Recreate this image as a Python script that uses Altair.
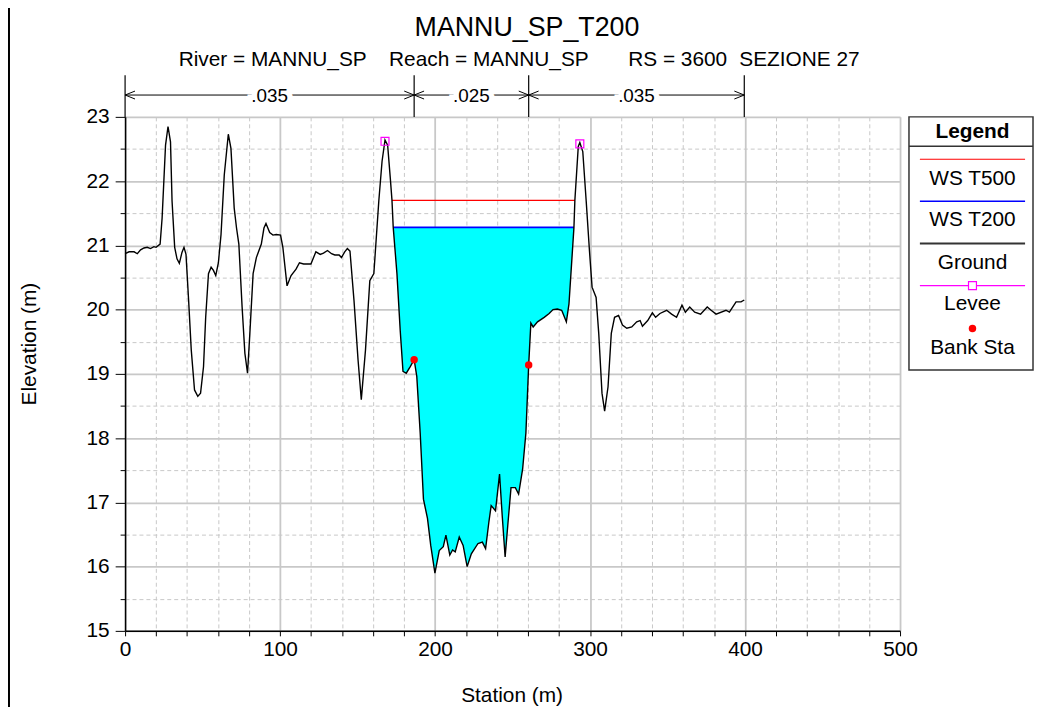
import altair as alt
import pandas as pd

# ---------------- data ----------------
station = [0.0, 2.6, 5.8, 7.9, 10.0, 12.2, 14.3, 16.4, 18.6, 20.0, 22.6, 23.9, 26.1, 27.7, 29.3,
           30.3, 32.0, 33.5, 35.0, 36.7, 38.0, 39.3, 41.0, 42.7, 44.8, 46.9, 48.7, 50.6, 52.0,
           53.8, 55.5, 57.0, 58.5, 60.2, 61.9, 64.0, 66.6, 68.3, 70.4, 71.9, 73.4, 75.5, 77.3,
           79.0, 80.5, 82.6, 84.7, 87.9, 89.6, 90.9, 93.3, 95.4, 97.5, 100.3, 101.8, 104.5, 107.1,
           110.3, 112.5, 115.2, 119.9, 123.1, 125.9, 128.0, 130.6, 133.2, 135.3, 138.1, 139.6,
           141.7, 143.4, 145.1, 147.7, 150.3, 152.4, 155.1, 157.9, 160.5, 163.7, 165.8, 167.7,
           169.4, 171.1, 172.2, 173.0, 175.4, 177.5, 179.3, 181.4, 183.9, 186.5, 188.2, 190.4,
           192.5, 195.1, 197.2, 199.9, 202.7, 205.3, 207.0, 209.5, 211.3, 213.0, 215.6, 218.1,
           220.7, 223.4, 227.7, 230.5, 232.6, 234.7, 236.2, 239.0, 241.6, 243.3, 245.2, 246.9,
           249.0, 251.8, 253.9, 256.5, 258.6, 260.4, 261.8, 263.3, 266.1, 270.4, 273.6, 276.1,
           278.9, 281.7, 284.7, 286.4, 289.6, 290.2, 292.4, 293.4, 295.3, 297.5, 299.6, 301.3,
           303.9, 305.6, 307.7, 309.4, 311.6, 313.7, 315.8, 318.4, 320.9, 323.7, 326.9, 330.1,
           332.3, 333.8, 337.2, 340.2, 342.3, 345.1, 349.4, 352.6, 355.8, 359.3, 361.5, 364.3,
           367.5, 371.3, 375.6, 378.1, 381.3, 387.7, 389.9, 392.0, 394.2, 397.4, 399.5]
elevation = [20.87, 20.90, 20.90, 20.87, 20.93, 20.96, 20.97, 20.95, 20.98, 20.97, 21.02, 21.43,
             22.56, 22.85, 22.61, 21.69, 20.97, 20.79, 20.72, 20.89, 20.97, 20.86, 20.14, 19.37,
             18.75, 18.65, 18.70, 19.11, 19.88, 20.56, 20.66, 20.61, 20.53, 20.73, 21.17, 22.10,
             22.73, 22.51, 21.58, 21.27, 21.02, 20.04, 19.32, 19.01, 19.63, 20.56, 20.81, 21.02,
             21.27, 21.34, 21.20, 21.16, 21.17, 21.16, 20.97, 20.37, 20.53, 20.63, 20.73, 20.71,
             20.71, 20.90, 20.86, 20.88, 20.92, 20.87, 20.85, 20.85, 20.81, 20.90, 20.95, 20.91,
             20.14, 19.22, 18.60, 19.37, 20.45, 20.56, 21.69, 22.31, 22.64, 22.56, 22.05, 21.70,
             21.28, 20.56, 19.68, 19.04, 19.01, 19.11, 19.22, 18.96, 18.08, 17.05, 16.75, 16.33,
             15.90, 16.25, 16.31, 16.49, 16.18, 16.26, 16.23, 16.46, 16.33, 16.00, 16.20, 16.36,
             16.38, 16.28, 16.69, 16.95, 16.87, 17.44, 16.80, 16.15, 16.64, 17.23, 17.23, 17.13,
             17.52, 18.08, 19.14, 19.79, 19.73, 19.81, 19.88, 19.94, 20.00, 20.01, 19.99, 19.81,
             20.09, 21.28, 21.70, 22.54, 22.60, 22.46, 21.69, 20.92, 20.35, 20.19, 19.63, 18.70,
             18.42, 18.80, 19.63, 19.88, 19.91, 19.76, 19.71, 19.73, 19.81, 19.83, 19.74, 19.83,
             19.95, 19.88, 19.94, 19.99, 19.93, 19.88, 20.07, 19.96, 20.04, 19.96, 19.93, 20.04,
             19.99, 19.93, 19.99, 19.96, 20.04, 20.12, 20.12, 20.15]

ws_t500 = 21.70
ws_t500_sta = [172.2, 290.2]
ws_t200 = 21.28
ws_t200_sta = [173.0, 289.6]

levee_sta = [167.7, 293.4]
levee_elev = [22.62, 22.58]
bank_sta = [186.5, 260.4]
bank_elev = [19.22, 19.14]

n_start = [0.0, 186.5, 260.4]
n_end = [186.5, 260.4, 399.5]
n_label = [".035", ".025", ".035"]
n_breaks = [0.0, 186.5, 260.4, 399.5]

x_ticks = list(range(0, 501, 20))
y_ticks = [15 + 0.5 * i for i in range(17)]

title_text = "MANNU_SP_T200"
sub_parts = ["River = MANNU_SP", "Reach = MANNU_SP", "RS = 3600", "SEZIONE 27"]
legend_labels = ["WS T500", "WS T200", "Ground", "Levee", "Bank Sta"]

# ---------------- tables ----------------
ground_df = pd.DataFrame({"station": station, "elevation": elevation})
t500_df = pd.DataFrame({"station": ws_t500_sta, "elevation": [ws_t500, ws_t500]})
t200_df = pd.DataFrame({"station": ws_t200_sta, "elevation": [ws_t200, ws_t200]})
levee_df = pd.DataFrame({"station": levee_sta, "elevation": levee_elev})
bank_df = pd.DataFrame({"station": bank_sta, "elevation": bank_elev})
n_df = pd.DataFrame({"start": n_start, "end": n_end, "label": n_label})
brk_df = pd.DataFrame({"station": n_breaks})
one = alt.Data(values=[{"k": 0}])

FONT = "Liberation Sans"

xs = alt.Scale(domain=[0, 500], nice=False, zero=False)
ys = alt.Scale(domain=[15, 23], nice=False, zero=False)

xaxis = alt.Axis(
    values=x_ticks,
    labelExpr="datum.value % 100 == 0 ? format(datum.value, 'd') : ''",
    grid=True, gridColor="#c8c8c8",
    gridDash={"condition": {"test": "datum.value % 100 != 0", "value": [4, 3]}, "value": []},
    gridWidth={"condition": {"test": "datum.value % 100 != 0", "value": 1}, "value": 1.8},
    tickSize=5, tickColor="black", domainColor="black", domainWidth=1.5,
    labelFont=FONT, labelFontSize=21, labelColor="black", labelPadding=3,
    labelFlush=False, labelOverlap=False, title=None,
)
yaxis = alt.Axis(
    values=y_ticks,
    labelExpr="datum.value % 1 == 0 ? format(datum.value, 'd') : ''",
    grid=True, gridColor="#c8c8c8",
    gridDash={"condition": {"test": "datum.value % 1 != 0", "value": [4, 3]}, "value": []},
    gridWidth={"condition": {"test": "datum.value % 1 != 0", "value": 1}, "value": 1.8},
    tickSize={"condition": {"test": "datum.value % 1 != 0", "value": 5}, "value": 10},
    tickColor="black", domainColor="black", domainWidth=1.5,
    labelFont=FONT, labelFontSize=21, labelColor="black", labelPadding=6,
    labelFlush=False, labelOverlap=False, title=None,
)

X = alt.X("station:Q", scale=xs, axis=xaxis, title=None)
Y = alt.Y("elevation:Q", scale=ys, axis=yaxis, title=None)

layers = []

# water fill (T200): between the ground and the water surface, inside the wetted reach
layers.append(
    alt.Chart(ground_df)
    .transform_filter(f"datum.station >= {ws_t200_sta[0]} && datum.station <= {ws_t200_sta[1]}")
    .transform_calculate(ws=str(ws_t200))
    .mark_area(color="#00ffff", fill="#00ffff", opacity=1, fillOpacity=1, interpolate="linear")
    .encode(x=X, y=Y, y2="ws:Q")
)
layers.append(alt.Chart(t500_df).mark_line(color="#ff0000", strokeWidth=1.2).encode(x=X, y=Y))
layers.append(alt.Chart(t200_df).mark_line(color="#0000ff", strokeWidth=1.6).encode(x=X, y=Y))
layers.append(
    alt.Chart(ground_df).mark_line(color="black", strokeWidth=1.4).encode(x=X, y=Y, order="station:Q")
)
layers.append(
    alt.Chart(levee_df).mark_point(shape="square", filled=False, color="#ff00ff", size=64, strokeWidth=1.2, opacity=1)
    .encode(x=X, y=Y)
)
layers.append(
    alt.Chart(bank_df).mark_circle(color="#ff0000", size=56, opacity=1).encode(x=X, y=Y)
)

# Manning's n bar above plot
layers.append(
    alt.Chart(brk_df).mark_rule(color="black", strokeWidth=1.2)
    .encode(x=X, y=alt.value(-42), y2=alt.value(0))
)
layers.append(
    alt.Chart(n_df).mark_rule(color="black", strokeWidth=1)
    .encode(x=alt.X("start:Q", scale=xs, axis=xaxis, title=None), x2="end:Q", y=alt.value(-22))
)
layers.append(
    alt.Chart(n_df).mark_point(shape="M 2.5 -1 L 0 0 L 2.5 1", filled=False, color="black", size=64, strokeWidth=1, opacity=1)
    .encode(x=alt.X("start:Q", scale=xs, axis=xaxis, title=None), y=alt.value(-22))
)
layers.append(
    alt.Chart(n_df).mark_point(shape="M -2.5 -1 L 0 0 L -2.5 1", filled=False, color="black", size=64, strokeWidth=1, opacity=1)
    .encode(x=alt.X("end:Q", scale=xs, axis=xaxis, title=None), y=alt.value(-22))
)
n_mid = alt.Chart(n_df).transform_calculate(mid="(datum.start + datum.end) / 2")
layers.append(
    n_mid.mark_text(font=FONT, fontSize=19, stroke="white", strokeWidth=11, fill="white",
                    align="center", baseline="alphabetic")
    .encode(x=alt.X("mid:Q", scale=xs, axis=xaxis, title=None), y=alt.value(-15), text="label:N")
)
layers.append(
    n_mid.mark_text(font=FONT, fontSize=19, color="black", align="center", baseline="alphabetic")
    .encode(x=alt.X("mid:Q", scale=xs, axis=xaxis, title=None), y=alt.value(-15), text="label:N")
)

# titles
layers.append(
    alt.Chart(one).mark_text(text=title_text, font=FONT, fontSize=27, color="black", align="center", baseline="alphabetic")
    .encode(x=alt.value(405), y=alt.value(-82))
)
for txt, xv in zip(sub_parts, [54, 266, 507, 619]):
    layers.append(
        alt.Chart(one).mark_text(text=txt, font=FONT, fontSize=21, color="black", align="left", baseline="alphabetic")
        .encode(x=alt.value(xv), y=alt.value(-51.5))
    )
layers.append(
    alt.Chart(one).mark_text(text="Station (m)", font=FONT, fontSize=21, color="black", align="center", baseline="alphabetic")
    .encode(x=alt.value(390), y=alt.value(590))
)
layers.append(
    alt.Chart(one).mark_text(text="Elevation (m)", font=FONT, fontSize=21, color="black", align="center",
                             baseline="middle", angle=270)
    .encode(x=alt.value(-96), y=alt.value(229))
)

# outer frame line on the left
layers.append(
    alt.Chart(one).mark_rule(color="black", strokeWidth=2)
    .encode(x=alt.value(-117), y=alt.value(-120), y2=alt.value(610))
)

# legend box
LX0, LX1, LXC = 790, 915, 854
layers.append(
    alt.Chart(one).mark_rect(fill="white", stroke="#333333", strokeWidth=1.5)
    .encode(x=alt.value(LX0), x2=alt.value(LX1), y=alt.value(0), y2=alt.value(255))
)
layers.append(
    alt.Chart(one).mark_rule(color="#333333", strokeWidth=1.5)
    .encode(x=alt.value(LX0), x2=alt.value(LX1), y=alt.value(29.5))
)
layers.append(
    alt.Chart(one).mark_text(text="Legend", font=FONT, fontSize=21, fontWeight="bold", color="black",
                             align="center", baseline="alphabetic")
    .encode(x=alt.value(LXC), y=alt.value(21))
)
for col, yv, w in [("#ff0000", 42.7, 1.2), ("#0000ff", 85, 1.5), ("#333333", 127.7, 2), ("#ff00ff", 170, 1.2)]:
    layers.append(
        alt.Chart(one).mark_rule(color=col, strokeWidth=w)
        .encode(x=alt.value(801), x2=alt.value(907), y=alt.value(yv))
    )
layers.append(
    alt.Chart(one).mark_point(shape="square", filled=True, fill="white", stroke="#ff00ff", size=64, strokeWidth=1.2, opacity=1)
    .encode(x=alt.value(LXC), y=alt.value(170))
)
layers.append(
    alt.Chart(one).mark_circle(color="#ff0000", size=56, opacity=1)
    .encode(x=alt.value(LXC), y=alt.value(213.3))
)
for txt, yv in zip(legend_labels, [68.3, 110, 153.3, 195, 239]):
    layers.append(
        alt.Chart(one).mark_text(text=txt, font=FONT, fontSize=21, color="black", align="center", baseline="alphabetic")
        .encode(x=alt.value(LXC), y=alt.value(yv))
    )

chart = (
    alt.layer(*layers)
    .properties(
        width=781, height=518,
        padding={"left": 118, "top": 107, "right": 135, "bottom": 74},
        autosize=alt.AutoSizeParams(type="none"),
        background="white",
    )
    .configure_view(stroke=None)
)

chart.save("out.html", embed_options={"renderer": "svg", "actions": False})
